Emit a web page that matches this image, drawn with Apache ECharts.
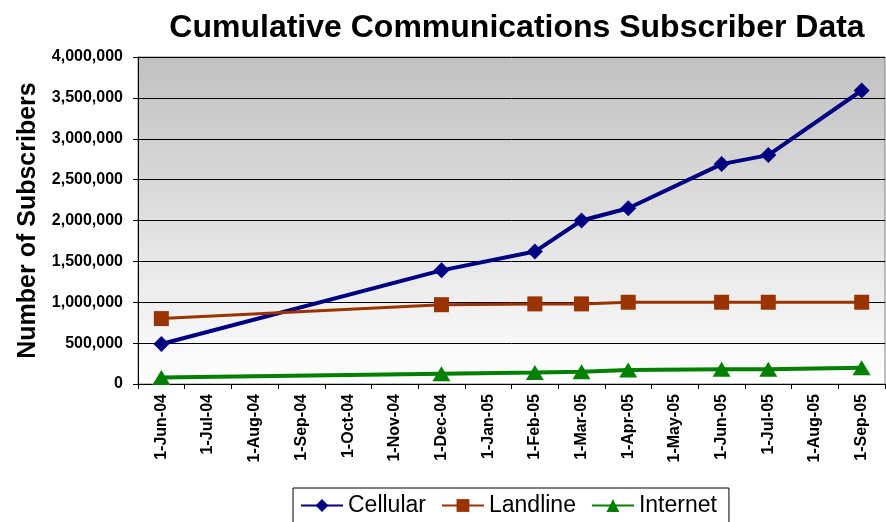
<!DOCTYPE html>
<html><head><meta charset="utf-8">
<script src="https://cdn.jsdelivr.net/npm/echarts@6/dist/echarts.min.js"></script>
<style>html,body{margin:0;padding:0;background:#fff}#c{width:886px;height:522px}</style>
</head><body><div id="c"></div>
<script>
const months = ['1-Jun-04','1-Jul-04','1-Aug-04','1-Sep-04','1-Oct-04','1-Nov-04','1-Dec-04','1-Jan-05','1-Feb-05','1-Mar-05','1-Apr-05','1-May-05','1-Jun-05','1-Jul-05','1-Aug-05','1-Sep-05'];
const cellular = [490000,null,null,null,null,null,1390000,null,1620000,2000000,2150000,null,2690000,2800000,null,3590000];
const landline = [800000,null,null,null,null,null,970000,null,980000,980000,1000000,null,1000000,1000000,null,1000000];
const internet = [80000,null,null,null,null,null,125000,null,140000,150000,170000,null,180000,180000,null,200000];
const seriesNames = ['Cellular','Landline','Internet'];
const yTicks = {min:0,max:4000000,interval:500000};

const font = '"Liberation Sans", Arial, sans-serif';
const chart = echarts.init(document.getElementById('c'));
function mk(name,data,color,symbol,size,lw){
  return {name,type:'line',data,connectNulls:true,symbol,symbolSize:size,
    lineStyle:{color,width:lw},itemStyle:{color},emphasis:{disabled:true},animation:false};
}
chart.setOption({
  animation:false,
  title:{text:'Cumulative Communications Subscriber Data',left:512,textAlign:'center',top:7,
    textStyle:{fontFamily:font,fontSize:32,fontWeight:'bold',color:'#000'}},
  grid:{left:138,right:1,top:57,bottom:138,show:true,borderColor:'#808080',borderWidth:1,
    backgroundColor:new echarts.graphic.LinearGradient(0,0,0,1,[{offset:0,color:'#c0c0c0'},{offset:1,color:'#ffffff'}])},
  legend:{data:seriesNames,left:293,top:488,itemGap:15,itemWidth:42,itemHeight:16,
    borderColor:'#000',borderWidth:1,padding:[6,12,8,7],
    textStyle:{fontFamily:font,fontSize:23,color:'#000'}},
  xAxis:{type:'category',data:months,boundaryGap:true,
    axisLine:{lineStyle:{color:'#000',width:1}},
    axisTick:{show:true,length:5,lineStyle:{color:'#000'}},
    axisLabel:{rotate:90,interval:0,margin:10,color:'#000',fontFamily:font,fontSize:16,fontWeight:'bold'},
    splitLine:{show:false}},
  yAxis:{type:'value',min:yTicks.min,max:yTicks.max,interval:yTicks.interval,
    name:'Number of Subscribers',nameLocation:'middle',nameGap:95,
    nameTextStyle:{fontFamily:font,fontSize:25,fontWeight:'bold',color:'#000'},
    axisLine:{show:true,lineStyle:{color:'#000'}},
    axisTick:{show:true,length:5,inside:false,lineStyle:{color:'#000'}},
    axisLabel:{margin:15,color:'#000',fontFamily:font,fontSize:16,fontWeight:'bold',
      formatter:v=>v.toLocaleString('en-US')},
    splitLine:{show:true,lineStyle:{color:'#000',width:1}}},
  series:[
    mk(seriesNames[0],cellular,'#000080','diamond',16,4),
    mk(seriesNames[1],landline,'#993300','rect',15,3),
    mk(seriesNames[2],internet,'#008000','triangle',[18,15],4)
  ]
});
</script></body></html>
